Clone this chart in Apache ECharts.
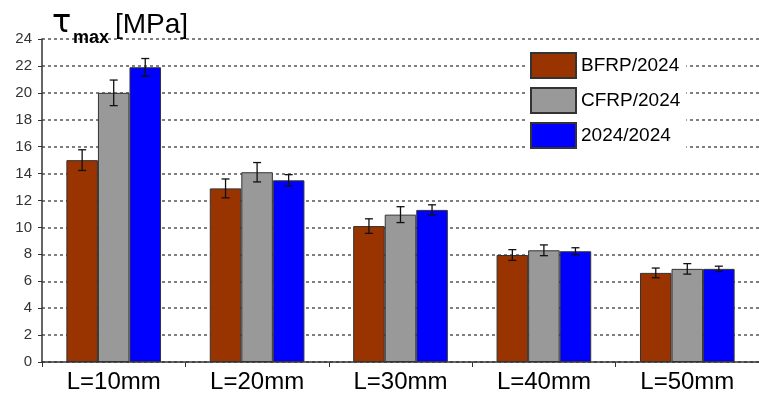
<!DOCTYPE html>
<html><head><meta charset="utf-8">
<script src="https://cdn.jsdelivr.net/npm/echarts@6/dist/echarts.min.js"></script>
<style>html,body{margin:0;padding:0;background:#fff}#c{width:759px;height:394px}</style>
</head><body><div id="c"></div>
<script>
var categories = ['L=10mm','L=20mm','L=30mm','L=40mm','L=50mm'];
var seriesNames = ['BFRP/2024','CFRP/2024','2024/2024'];
var bfrp = [15.0, 12.9, 10.1, 7.95, 6.62];
var cfrp = [20.0, 14.1, 10.95, 8.3, 6.92];
var al = [21.9, 13.5, 11.3, 8.23, 6.92];
var bfrpErr = [0.77, 0.7, 0.54, 0.4, 0.36];
var cfrpErr = [0.95, 0.72, 0.59, 0.4, 0.39];
var alErr = [0.65, 0.42, 0.38, 0.26, 0.2];
var yTicks = [0, 24, 2];
var colors = ['#993300', '#999999', '#0000ff'];

var values = [bfrp, cfrp, al];
var errs = [bfrpErr, cfrpErr, alErr];
var BAR_FRAC = 0.22;

var chart = echarts.init(document.getElementById('c'));
var series = [];
seriesNames.forEach(function (n, i) {
  series.push({
    name: n, type: 'bar', data: values[i], barWidth: (BAR_FRAC * 100) + '%', barGap: '0%',
    itemStyle: { color: colors[i], borderColor: '#333', borderWidth: 1 },
    z: 2
  });
});
seriesNames.forEach(function (n, i) {
  var d = values[i].map(function (v, k) { return [k, v - errs[i][k], v + errs[i][k]]; });
  series.push({
    type: 'custom', name: n + ' err', data: d, z: 5, silent: true,
    renderItem: function (params, api) {
      var k = api.value(0);
      var lo = api.coord([k, api.value(1)]);
      var hi = api.coord([k, api.value(2)]);
      var band = api.size([1, 0])[0];
      var off = (i - 1) * band * BAR_FRAC;
      var x = lo[0] + off;
      var c = 4;
      var st = { stroke: '#111', lineWidth: 1.3 };
      return { type: 'group', children: [
        { type: 'line', shape: { x1: x, y1: lo[1], x2: x, y2: hi[1] }, style: st },
        { type: 'line', shape: { x1: x - c, y1: lo[1], x2: x + c, y2: lo[1] }, style: st },
        { type: 'line', shape: { x1: x - c, y1: hi[1], x2: x + c, y2: hi[1] }, style: st }
      ]};
    }
  });
});

chart.setOption({
  animation: false,
  backgroundColor: '#fff',
  textStyle: { fontFamily: 'Liberation Sans, Arial, sans-serif' },
  grid: { left: 42, right: -2, top: 39, bottom: 28, containLabel: false },
  legend: {
    data: seriesNames, orient: 'vertical', left: 527, top: 45,
    itemWidth: 45, itemHeight: 25, itemGap: 8, icon: 'rect',
    padding: [7, 6, 7, 3], backgroundColor: '#fff',
    textStyle: { fontSize: 19, color: '#000', padding: [0, 0, 0, 0] },
    selectedMode: false
  },
  xAxis: {
    type: 'category', data: categories,
    axisLine: { lineStyle: { color: '#333', width: 1.5 } },
    axisTick: { show: true, length: 5, lineStyle: { color: '#333' } },
    axisLabel: { fontSize: 24, color: '#000', margin: 8 },
    splitLine: { show: false }
  },
  yAxis: {
    type: 'value', min: yTicks[0], max: yTicks[1], interval: yTicks[2],
    axisLine: { show: true, lineStyle: { color: '#333', width: 1.5 } },
    axisTick: { show: true, length: 4, lineStyle: { color: '#333' } },
    axisLabel: { fontSize: 15, color: '#333', margin: 10 },
    splitLine: { show: true, lineStyle: { color: '#555', type: [3, 3], width: 1.5 } }
  },
  graphic: [
    { type: 'text', left: 52, top: 8, z: 10, style: { text: 'τ', font: '32px "DejaVu Sans"', fill: '#000' } },
    { type: 'text', left: 73, top: 29, z: 10, style: { text: 'max', font: 'bold 18px "Liberation Sans", Arial', fill: '#000' } },
    { type: 'text', left: 115, top: 11, z: 10, style: { text: '[MPa]', font: '28px "Liberation Sans", Arial', fill: '#000' } }
  ],
  series: series
});
</script></body></html>
